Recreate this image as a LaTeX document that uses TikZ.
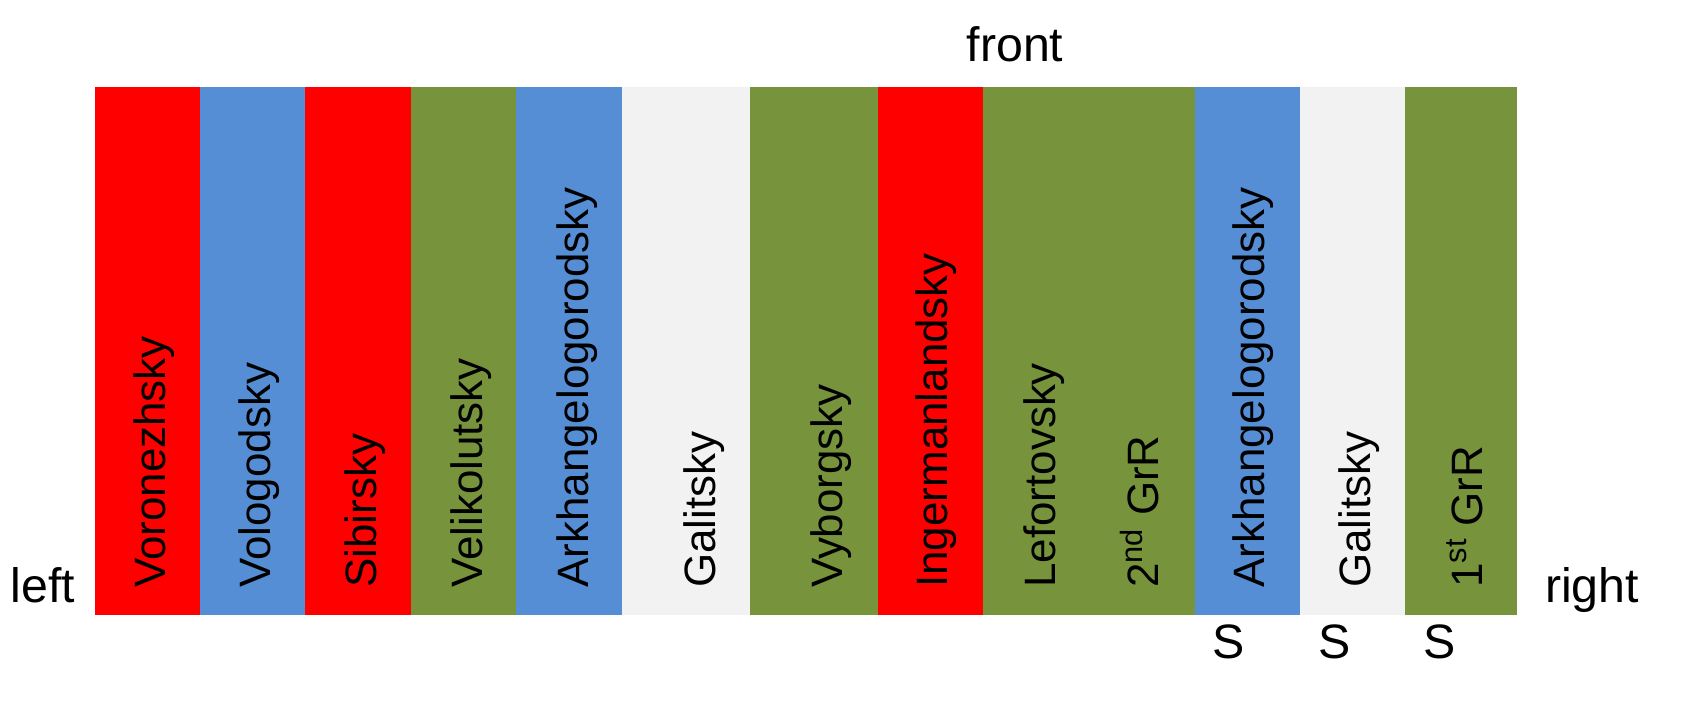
\documentclass[tikz,border=0pt]{standalone}
\usepackage{fontspec}
\setmainfont{Liberation Sans}
\definecolor{regred}{HTML}{FF0000}
\definecolor{regblue}{HTML}{558ED5}
\definecolor{reggreen}{HTML}{77933C}
\definecolor{reggray}{HTML}{F2F2F2}

\begin{document}
\begin{tikzpicture}[x=0.02cm,y=-0.02cm,regt/.style={rotate=90,anchor=base west,inner sep=0pt,font=\fontsize{25}{30}\selectfont},side/.style={anchor=base,inner sep=0pt,font=\fontsize{27.5}{32}\selectfont}]
\def\yt{87};
\def\yb{615};
\def\ys{588};

\useasboundingbox (0,0) rectangle (1700,710);

\fill[regred] (95,\yt) rectangle (200,\yb);
\fill[regblue] (200,\yt) rectangle (305,\yb);
\fill[regred] (305,\yt) rectangle (411,\yb);
\fill[reggreen] (411,\yt) rectangle (516,\yb);
\fill[regblue] (516,\yt) rectangle (622,\yb);
\fill[reggray] (622,\yt) rectangle (750,\yb);
\fill[reggreen] (750,\yt) rectangle (878,\yb);
\fill[regred] (878,\yt) rectangle (983,\yb);
\fill[reggreen] (983,\yt) rectangle (1195,\yb);
\fill[regblue] (1195,\yt) rectangle (1300,\yb);
\fill[reggray] (1300,\yt) rectangle (1405,\yb);
\fill[reggreen] (1405,\yt) rectangle (1517,\yb);

\node[regt] (voro) at (165,\ys) {Voronezhsky};
\node[regt] (volo) at (270,\ys) {Vologodsky};
\node[regt] (sibi) at (376,\ys) {Sibirsky};
\node[regt] (veli) at (482,\ys) {Velikolutsky};
\node[regt] (arkhA) at (588,\ys) {Arkhangelogorodsky};
\node[regt] (galiA) at (715,\ys) {Galitsky};
\node[regt] (vybo) at (842,\ys) {Vyborgsky};
\node[regt] (inge) at (947,\ys) {Ingermanlandsky};
\node[regt] (lefo) at (1055,\ys) {Lefortovsky};
\node[regt] (grrB) at (1158,\ys) {2\textsuperscript{nd} GrR};
\node[regt] (arkhB) at (1264,\ys) {Arkhangelogorodsky};
\node[regt] (galiB) at (1370,\ys) {Galitsky};
\node[regt] (grrA) at (1482,\ys) {1\textsuperscript{st} GrR};

\node[side] (front) at (1015,61) {front};
\node[side] (left) at (43,602) {left};
\node[side] (right) at (1592,602) {right};

\node[side] (sA) at (1229,658) {S};
\node[side] (sB) at (1335,658) {S};
\node[side] (sC) at (1440,658) {S};
\end{tikzpicture}
\end{document}
